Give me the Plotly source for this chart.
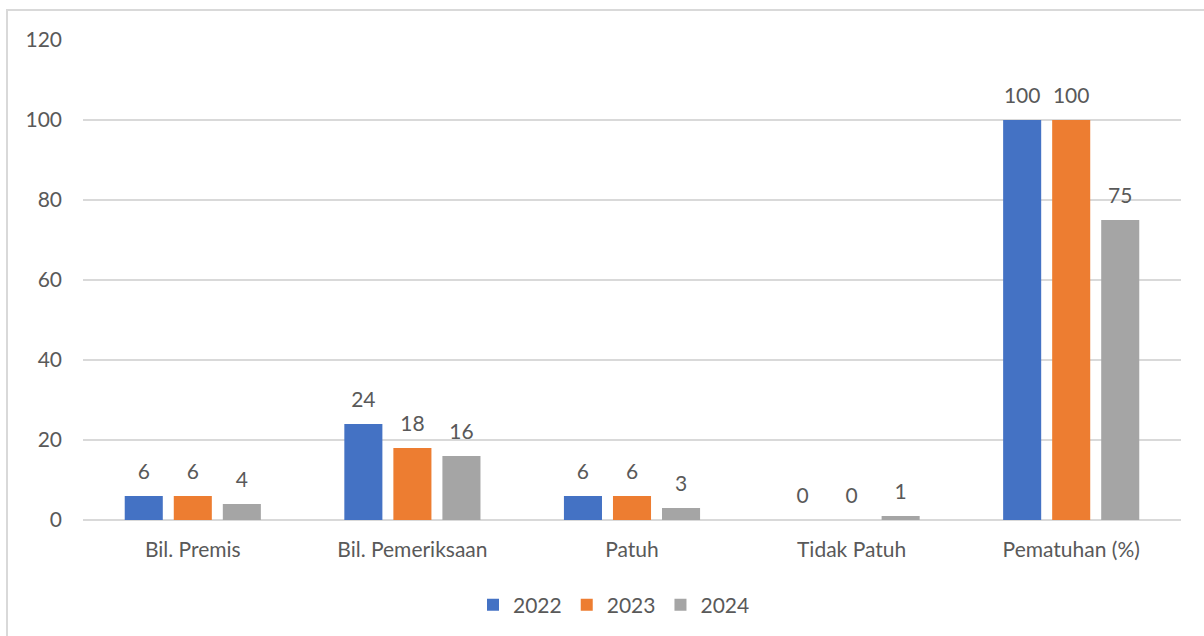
import plotly.graph_objects as go

categories = ["Bil. Premis", "Bil. Pemeriksaan", "Patuh", "Tidak Patuh", "Pematuhan (%)"]
years = ["2022", "2023", "2024"]
values_2022 = [6, 24, 6, 0, 100]
values_2023 = [6, 18, 6, 0, 100]
values_2024 = [4, 16, 3, 1, 75]
series = [values_2022, values_2023, values_2024]
colors = ["#4472C4", "#ED7D31", "#A5A5A5"]
y_ticks = [0, 20, 40, 60, 80, 100, 120]

TEXT = "#595959"
GRID = "#D9D9D9"
FONT = "Lato, Open Sans, sans-serif"
FS = 21

W, H = 1204, 636
ML, MR, MT, MB = 83, 23, 40, 115
PW, PH = W - ML - MR, H - MT - MB

fig = go.Figure()

for name, vals, col in zip(years, series, colors):
    fig.add_trace(go.Bar(
        x=categories, y=vals, name=name, marker_color=col,
        marker_line_width=0, offsetgroup=name, legendgroup=name,
    ))

# value labels, grouped the same way as the bars
for name, vals in zip(years, series):
    fig.add_trace(go.Scatter(
        x=categories, y=vals, mode="markers+text", text=[str(v) for v in vals],
        textposition="top center", textfont=dict(size=FS, color=TEXT, family=FONT),
        marker=dict(size=17, opacity=0), offsetgroup=name, showlegend=False,
        hoverinfo="skip", cliponaxis=False,
    ))

def px_x(p):
    return (p - ML) / PW

def px_y(p):
    return 1 - (p - MT) / PH

fig.add_shape(type="rect", xref="paper", yref="paper",
              x0=px_x(7), x1=px_x(W + 20), y0=px_y(10), y1=px_y(H + 20),
              line=dict(color=GRID, width=2), fillcolor="rgba(0,0,0,0)", layer="below")

fig.update_layout(
    width=W, height=H,
    margin=dict(l=ML, r=MR, t=MT, b=MB),
    paper_bgcolor="white", plot_bgcolor="white",
    barmode="group", bargap=0.33, bargroupgap=0.224,
    scattermode="group", scattergap=0.33,
    font=dict(family=FONT, size=FS, color=TEXT),
    showlegend=True,
    legend=dict(orientation="h", x=px_x(614), xanchor="center", y=px_y(605), yanchor="middle",
                font=dict(size=FS, color=TEXT, family=FONT), itemwidth=30,
                traceorder="normal"),
    xaxis=dict(showgrid=False, showline=False, zeroline=False, ticks="",
               tickfont=dict(size=FS, color=TEXT, family=FONT), ticklabelstandoff=15),
    yaxis=dict(range=[0, 120], tickvals=y_ticks, showgrid=True, gridcolor=GRID, gridwidth=2,
               zeroline=True, zerolinecolor=GRID, zerolinewidth=2, showline=False, ticks="",
               tickfont=dict(size=FS, color=TEXT, family=FONT), ticklabelstandoff=20),
)

fig.write_html("out.html")
